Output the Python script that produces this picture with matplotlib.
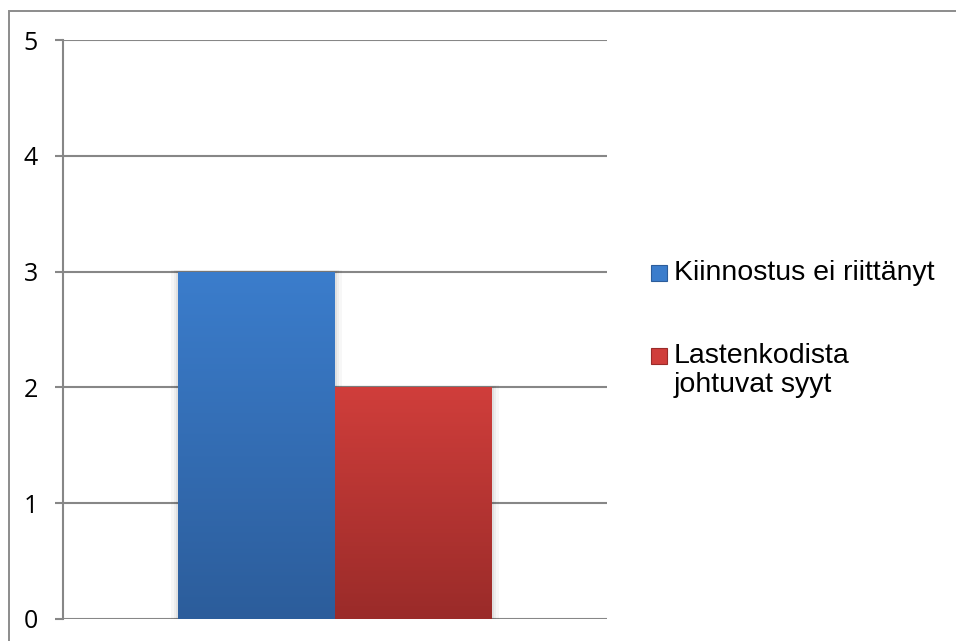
import matplotlib
matplotlib.use('Agg')
import matplotlib.pyplot as plt
import numpy as np
from matplotlib.colors import LinearSegmentedColormap
from matplotlib.patches import Rectangle

# ── data ──
series = ['Kiinnostus ei riittänyt', 'Lastenkodista\njohtuvat syyt']
values = [3, 2]
yticks = [0, 1, 2, 3, 4, 5]

# gradient colours (top, bottom) per series
grad = [('#3B7DCC', '#2C5D9B'), ('#D03E3B', '#9A2B29')]

W, H = 956, 641
fig = plt.figure(figsize=(W / 100, H / 100), dpi=100)
ax = fig.add_axes([63 / W, 22 / H, 544 / W, 579 / H])

grid_c = '#878787'
bar_w = 0.2886
xs = [-bar_w / 2, bar_w / 2]

bars = ax.bar(xs, values, bar_w, color='none', zorder=3)
for b, (top, bot) in zip(bars, grad):
    x0, w, h = b.get_x(), b.get_width(), b.get_height()
    # soft shadow
    for k, a in enumerate([0.05, 0.04, 0.03]):
        d = 0.004 * (k + 1)
        ax.add_patch(Rectangle((x0 - d, -0.02), w + 2 * d, h + 0.02 + d * 1.5,
                               color='black', alpha=a, lw=0, zorder=2))
    cmap = LinearSegmentedColormap.from_list('g', [bot, top])
    g = np.linspace(0, 1, 256).reshape(-1, 1)
    im = ax.imshow(g, extent=(x0, x0 + w, 0, h), origin='lower', aspect='auto',
                   cmap=cmap, zorder=3, interpolation='bicubic')
    im.set_clip_path(b)

ax.set_xlim(-0.5, 0.5)
ax.set_ylim(0, 5)
ax.set_yticks(yticks)
ax.set_xticks([])
ax.yaxis.grid(True, color=grid_c, linewidth=1.5)
ax.set_axisbelow(True)
for s in ['top', 'right', 'bottom']:
    ax.spines[s].set_visible(False)
ax.spines['left'].set_color(grid_c)
ax.spines['left'].set_linewidth(1.5)
ax.spines['left'].set_zorder(4)
ax.tick_params(axis='y', length=6, width=1.5, color=grid_c, pad=12,
               labelsize=18, labelcolor='black')
for t in ax.get_yticklabels():
    t.set_fontfamily('Open Sans')

# legend drawn by hand so the marker sits on the first text line
leg_y = [273, 356]
for lab, (top, bot), yy in zip(series, grad, leg_y):
    fig.patches.append(Rectangle((651 / W, 1 - (yy + 8) / H), 16 / W, 16 / H,
                                 transform=fig.transFigure, facecolor=top,
                                 edgecolor=bot, lw=0.8))
    fig.text(674 / W, 1 - (yy - 13) / H, lab, fontsize=20.5,
             family='Liberation Sans', va='top', ha='left', linespacing=1.16)

# outer chart border
fig.patches.append(Rectangle((8.5 / W, -0.05), 1.1, 1 - 10.5 / H + 0.05,
                             transform=fig.transFigure, fill=False,
                             edgecolor='#8C8C8C', lw=1.4))

fig.savefig('out.png', dpi=100, facecolor='white')
